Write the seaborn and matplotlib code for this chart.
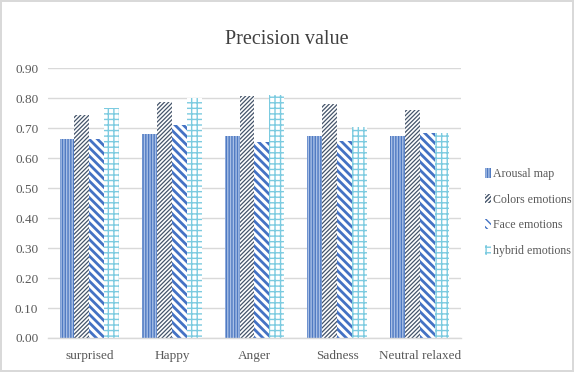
import matplotlib
matplotlib.use("Agg")
import matplotlib.pyplot as plt
import seaborn as sns
import pandas as pd
from matplotlib.patches import Patch

categories = ["surprised", "Happy", "Anger", "Sadness", "Neutral relaxed"]
series_names = ["Arousal map", "Colors emotions", "Face emotions", "hybrid emotions"]
arousal_map = [0.665, 0.680, 0.675, 0.675, 0.672]
colors_emotions = [0.743, 0.787, 0.808, 0.780, 0.760]
face_emotions = [0.663, 0.710, 0.652, 0.657, 0.683]
hybrid_emotions = [0.766, 0.801, 0.810, 0.704, 0.685]
y_ticks = [0.0, 0.1, 0.2, 0.3, 0.4, 0.5, 0.6, 0.7, 0.8, 0.9]

series_values = [arousal_map, colors_emotions, face_emotions, hybrid_emotions]
df = pd.DataFrame(
    [(c, s, v) for s, vals in zip(series_names, series_values) for c, v in zip(categories, vals)],
    columns=["category", "series", "value"],
)

sns.set_theme(style="white")
plt.rcParams["font.family"] = ["Liberation Serif", "DejaVu Serif"]
plt.rcParams["hatch.linewidth"] = 1.0

styles = {
    "Arousal map": dict(face="#a8bfe6", hatch="||||||", edge="#4f7ac2", lw=1.0),
    "Colors emotions": dict(face="white", hatch="////////", edge="#44546a", lw=0.9),
    "Face emotions": dict(face="white", hatch="\\\\\\\\", edge="#4472c4", lw=2.0),
    "hybrid emotions": dict(face="white", hatch="+++", edge="#7ccbe0", lw=1.0),
}


def style_patch(p, st):
    p.set_facecolor(st["face"])
    p.set_hatch(st["hatch"])
    p.set_edgecolor(st["edge"])
    p.set_linewidth(0)
    if hasattr(p, "set_hatch_linewidth"):
        p.set_hatch_linewidth(st["lw"])


fig = plt.figure(figsize=(5.74, 3.72), dpi=100)
fig.patch.set_edgecolor("#d9d9d9")
fig.patch.set_linewidth(1.5)
ax = fig.add_axes([0.0836, 0.0914, 0.7195, 0.7256])

sns.barplot(data=df, x="category", y="value", hue="series", order=categories,
            hue_order=series_names, width=0.72, gap=0, ax=ax, legend=False,
            palette=["white"] * 4, saturation=1)

for name, cont in zip(series_names, ax.containers):
    for bar in cont:
        style_patch(bar, styles[name])

ax.set_ylim(0, 0.9)
ax.set_xlim(-0.5, len(categories) - 0.5)
ax.set_yticks(y_ticks)
ax.set_yticklabels([f"{t:.2f}" for t in y_ticks])
ax.yaxis.grid(True, color="#d9d9d9", linewidth=1)
ax.set_axisbelow(True)
ax.set_xlabel("")
ax.set_ylabel("")
for side in ["left", "right", "top"]:
    ax.spines[side].set_visible(False)
ax.spines["bottom"].set_color("#d9d9d9")
ax.spines["bottom"].set_linewidth(1)
ax.tick_params(axis="both", length=0, labelsize=9.5, colors="#595959")
ax.tick_params(axis="y", pad=7)
ax.tick_params(axis="x", pad=9)

fig.text(0.5, 0.895, "Precision value", ha="center", va="center",
         fontsize=14.5, color="#404040")

handles = []
for n in series_names:
    h = Patch()
    style_patch(h, styles[n])
    handles.append(h)
leg = fig.legend(handles, series_names, loc="upper left", bbox_to_anchor=(0.836, 0.562),
                 frameon=False, fontsize=8.6, handlelength=0.55, handleheight=0.9,
                 handletextpad=0.12, labelspacing=1.15, borderaxespad=0)
for t in leg.get_texts():
    t.set_color("#595959")

fig.savefig("out.png", dpi=100)
